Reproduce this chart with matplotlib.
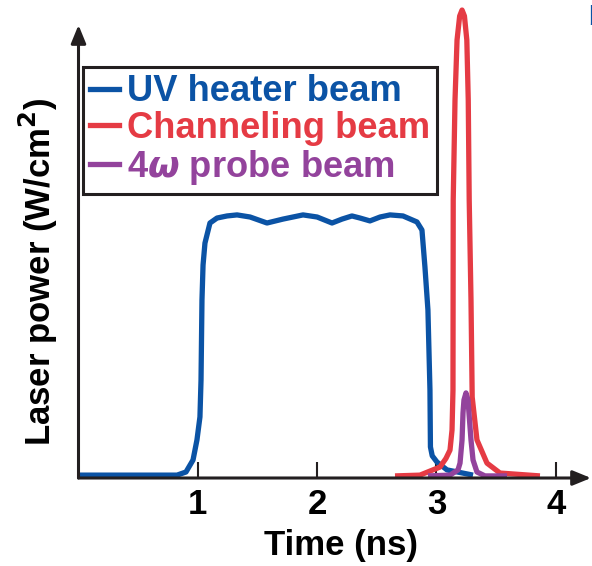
import matplotlib
matplotlib.use("Agg")
import matplotlib.pyplot as plt
from matplotlib.lines import Line2D

plt.rcParams['font.family'] = ['Liberation Sans', 'DejaVu Sans']
plt.rcParams['font.weight'] = 'bold'
plt.rcParams['mathtext.fontset'] = 'dejavusans'

# ---- data (time in ns, power in units of heater plateau) ----
uv_t = [0.0, 0.826, 0.901, 0.960, 0.993, 1.018, 1.027, 1.035, 1.044, 1.060, 1.102, 1.161,
        1.245, 1.329, 1.438, 1.580, 1.714, 1.882, 2.000, 2.125, 2.209, 2.292, 2.360, 2.443,
        2.528, 2.611, 2.720, 2.837, 2.879, 2.904, 2.929, 2.946, 2.950, 2.965, 3.005, 3.089, 3.307]
uv_p = [0.011, 0.011, 0.023, 0.069, 0.146, 0.234, 0.375, 0.682, 0.816, 0.900, 0.977, 0.996,
        1.004, 1.008, 1.000, 0.977, 0.992, 1.008, 1.000, 0.977, 0.992, 1.004, 0.996, 0.985,
        1.000, 1.008, 1.004, 0.981, 0.950, 0.808, 0.644, 0.337, 0.119, 0.085, 0.061, 0.031, 0.011]

ch_t = [2.653, 2.862, 3.030, 3.080, 3.114, 3.131, 3.139, 3.141, 3.156, 3.173, 3.195, 3.215,
        3.235, 3.255, 3.267, 3.275, 3.290, 3.300, 3.340, 3.424, 3.533, 3.868]
ch_p = [0.008, 0.011, 0.042, 0.075, 0.107, 0.184, 0.337, 1.065, 1.448, 1.678, 1.770, 1.793,
        1.770, 1.678, 1.448, 1.065, 0.682, 0.310, 0.146, 0.057, 0.019, 0.008]

pr_t = [2.929, 3.114, 3.181, 3.198, 3.215, 3.223, 3.231, 3.248, 3.265, 3.273, 3.290, 3.307,
        3.340, 3.407, 3.592]
pr_p = [0.008, 0.011, 0.031, 0.057, 0.146, 0.249, 0.299, 0.326, 0.299, 0.249, 0.146, 0.069,
        0.023, 0.008, 0.008]

xticks = [1, 2, 3, 4]
labels = ['UV heater beam', 'Channeling beam', r'4$\omega$ probe beam']

BLUE = '#0b53a5'
RED = '#e53b44'
PURPLE = '#93439c'
AX = '#231f20'

W, H = 592, 566
fig = plt.figure(figsize=(W / 100, H / 100), dpi=100)
x0, x1 = 78.5, 591
y0, y1 = 478, 5
ax = fig.add_axes([x0 / W, 1 - y0 / H, (x1 - x0) / W, (y0 - y1) / H])
ax.set_xlim(0, (x1 - x0) / 119.3)
ax.set_ylim(0, (y0 - y1) / 261)

lw = 3.8
ax.plot(uv_t, uv_p, color=BLUE, lw=lw, solid_joinstyle='round', solid_capstyle='butt', zorder=3)
ax.plot(ch_t, ch_p, color=RED, lw=lw, solid_joinstyle='round', solid_capstyle='butt', zorder=4, clip_on=False)
ax.plot(pr_t, pr_p, color=PURPLE, lw=lw, solid_joinstyle='round', solid_capstyle='butt', zorder=5)

for s in ax.spines.values():
    s.set_visible(False)

# axes arrows
ax.annotate('', xy=(1.0, 0), xytext=(0, 0), xycoords='axes fraction',
            arrowprops=dict(arrowstyle='-|>,head_length=1.1,head_width=0.45', lw=2.2,
                            color=AX, shrinkA=0, shrinkB=0), annotation_clip=False, zorder=6)
ax.annotate('', xy=(0, (y0 - 25) / (y0 - y1)), xytext=(0, 0), xycoords='axes fraction',
            arrowprops=dict(arrowstyle='-|>,head_length=1.1,head_width=0.45', lw=2.2,
                            color=AX, shrinkA=0, shrinkB=0), annotation_clip=False, zorder=6)

ax.set_xticks(xticks)
ax.set_xticklabels([str(t) for t in xticks])
ax.set_yticks([])
ax.tick_params(axis='x', direction='in', length=11.5, width=1.5, color=AX,
               labelsize=25, pad=7, labelcolor='black')

fig.text(341 / W, 1 - 546 / H, 'Time (ns)', ha='center', va='center', fontsize=25, fontweight='bold')
fig.text(38 / W, 1 - 272 / H, 'Laser power (W/cm$^\\mathbf{2}$)', ha='center', va='center',
         rotation=90, fontsize=25, fontweight='bold')

handles = [Line2D([], [], color=c, lw=3.8) for c in (BLUE, RED, PURPLE)]
leg = ax.legend(handles, labels, loc='upper left', bbox_to_anchor=(83 / W, 1 - 67 / H),
                bbox_transform=fig.transFigure, borderaxespad=0, borderpad=0.2,
                handlelength=0.8, handletextpad=0.2, labelspacing=0.05, frameon=True,
                fancybox=False, edgecolor=AX, framealpha=1, labelcolor='linecolor',
                prop={'size': 26.2, 'weight': 'bold'})
leg.get_frame().set_linewidth(2.2)
leg.set_zorder(2)

fig.text(588 / W, 1 - 18 / H, 'b', color=BLUE, fontsize=20, fontweight='bold', ha='left', va='center')

fig.savefig('out.png', dpi=100)
